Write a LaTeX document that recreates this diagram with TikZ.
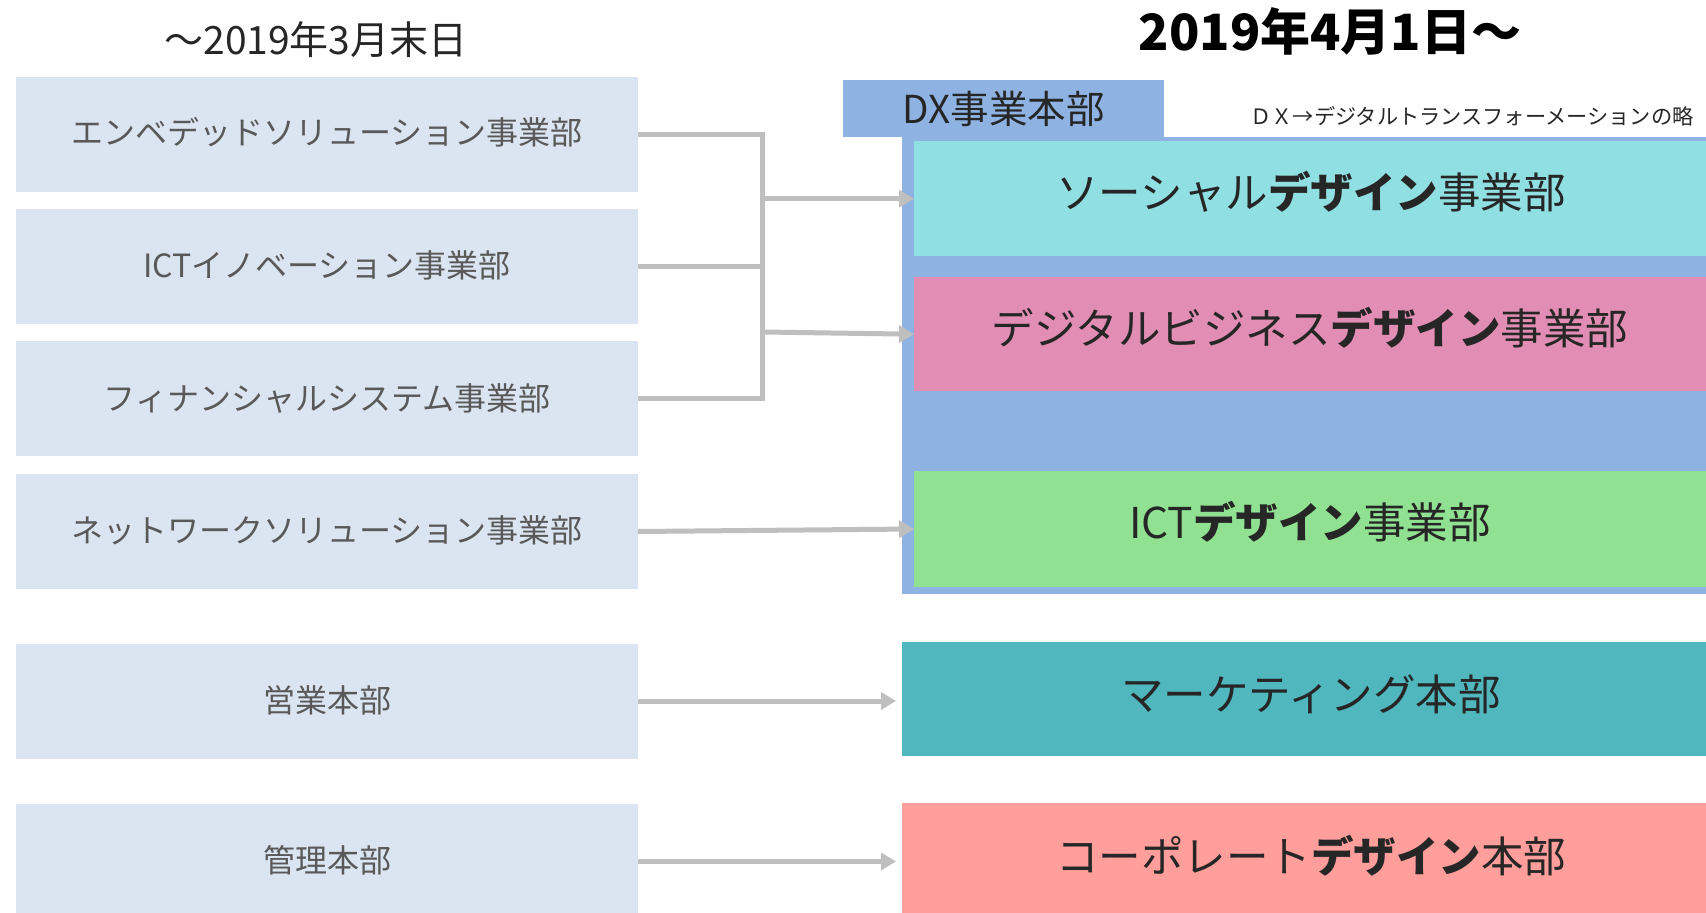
\documentclass[tikz,border=0pt]{standalone}
\usepackage{fontspec}
\setmainfont{Noto Sans CJK JP}
\usetikzlibrary{arrows.meta,calc}
\definecolor{leftbox}{HTML}{DBE5F1}
\definecolor{dxblue}{HTML}{8EB3E2}
\definecolor{socialc}{HTML}{90DFE2}
\definecolor{digitalc}{HTML}{E28EB4}
\definecolor{ictc}{HTML}{90E292}
\definecolor{marketc}{HTML}{50B7BE}
\definecolor{corpc}{HTML}{FF9E9A}
\definecolor{connc}{HTML}{BFBFBF}
\definecolor{lefttxt}{HTML}{595959}
\definecolor{righttxt}{HTML}{262626}
\newcommand{\upby}[2]{\raisebox{#1}{#2}}
\tikzset{
  oldbox/.style={fill=leftbox, draw=none, inner sep=0pt, minimum width=622pt, minimum height=115pt,
    text=lefttxt, font=\fontsize{32}{38}\selectfont},
  newbox/.style={draw=none, inner sep=0pt, text=righttxt, font=\fontsize{42.5}{50}\selectfont},
  conn/.style={draw=connc, line width=5pt},
  arr/.style={conn, -{Triangle[length=15pt,width=17pt]}},
}
\begin{document}
\begin{tikzpicture}[x=1pt,y=-1pt]
\useasboundingbox (0,0) rectangle (1706,913);
% titles
\node[font=\fontsize{39}{44}\selectfont, text=black!85] (t1) at (316,40) {～2019年3月末日};
\node[font=\fontsize{50}{56}\selectfont\bfseries, text=black] (t2) at (1330,31) {2019年4月1日～};
% left boxes
\node[oldbox] (L1) at (327,134.5) {\upby{8pt}{エンベデッドソリューション事業部}};
\node[oldbox] (L2) at (327,266) {\upby{3.5pt}{ICTイノベーション事業部}};
\node[oldbox] (L3) at (327,398.5) {\upby{3.5pt}{フィナンシャルシステム事業部}};
\node[oldbox] (L4) at (327,531.5) {\upby{4pt}{ネットワークソリューション事業部}};
\node[oldbox] (L5) at (327,701) {\upby{3.5pt}{営業本部}};
\node[oldbox] (L6) at (327,861.5) {\upby{6pt}{管理本部}};
% DX container
\node[fill=dxblue, inner sep=0pt, minimum width=810pt, minimum height=457pt, anchor=north west] (dxbg) at (902,137) {};
\node[fill=dxblue, inner sep=0pt, minimum width=321pt, minimum height=57pt, anchor=north west,
  font=\fontsize{38.5}{44}\selectfont, text=righttxt] (dxh) at (843,80) {DX事業本部};
\node[anchor=east, font=\fontsize{21.2}{24}\selectfont, text=righttxt] (note) at (1697,116) {ＤＸ→デジタルトランスフォーメーションの略};
% new boxes
\node[newbox, fill=socialc, minimum width=800pt, minimum height=115pt, anchor=north west] (S) at (914,141) {};
\node[newbox, text=righttxt] (St) at (1311,192) {ソーシャル\textbf{デザイン}事業部};
\node[newbox, fill=digitalc, minimum width=800pt, minimum height=114pt, anchor=north west] (D) at (914,277) {};
\node[newbox, text=righttxt] (Dt) at (1310,328) {デジタルビジネス\textbf{デザイン}事業部};
\node[newbox, fill=ictc, minimum width=800pt, minimum height=116pt, anchor=north west] (I) at (914,471) {};
\node[newbox, text=righttxt] (It) at (1310,522) {ICT\textbf{デザイン}事業部};
\node[newbox, fill=marketc, minimum width=810pt, minimum height=114pt, anchor=north west] (M) at (902,642) {};
\node[newbox, text=righttxt] (Mt) at (1311,694) {マーケティング本部};
\node[newbox, fill=corpc, minimum width=810pt, minimum height=116pt, anchor=north west] (C) at (902,803) {};
\node[newbox, text=righttxt] (Ct) at (1311,856) {コーポレート\textbf{デザイン}本部};
% connectors
\coordinate (bx) at (762,0);
\coordinate (bx2) at (762,332);
\draw[conn, line join=miter] (L1.east) -| (bx |- L3.east) -- (L3.east);
\draw[conn] (L2.east) -- (bx |- L2.east);
\draw[arr] (bx |- S.west) -- (S.west);
\draw[arr] (bx2) -- (D.west);
\draw[arr] (L4.east) -- (I.west |- 0,529);
\draw[arr, shorten >=6pt] (L5.east) -- (M.west |- L5.east);
\draw[arr, shorten >=6pt] (L6.east) -- (C.west |- L6.east);
\end{tikzpicture}
\end{document}
